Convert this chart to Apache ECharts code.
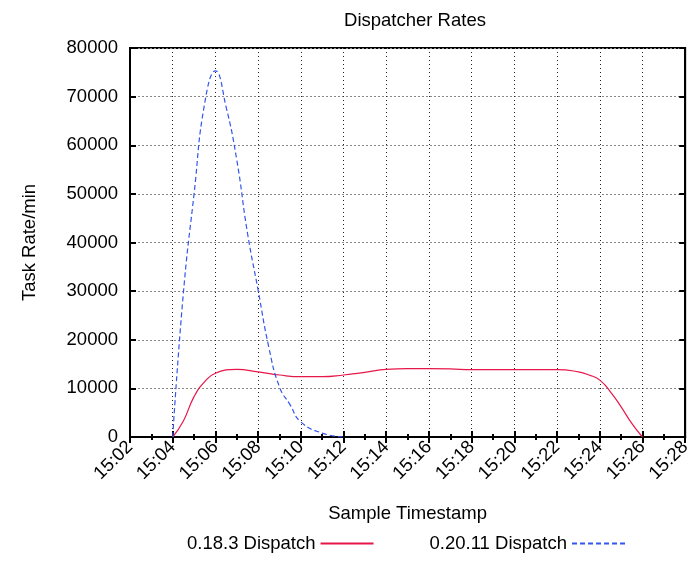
<!DOCTYPE html>
<html>
<head>
<meta charset="utf-8">
<script src="https://cdn.jsdelivr.net/npm/echarts@6/dist/echarts.min.js"></script>
<style>
  html, body { margin: 0; padding: 0; background: #fff; }
  #main { width: 694px; height: 563px; }
</style>
</head>
<body>
<div id="main"></div>
<script>
// minutes after 15:00
var oldMinutes = [4, 4.5, 5, 5.5, 6, 7, 8, 9, 10, 11, 12, 13, 14, 15, 16, 17, 18, 19, 20, 21, 22, 23, 23.5, 24, 24.5, 25, 25.5, 26];
var oldRates = [0, 3300, 8300, 11400, 13100, 13900, 13400, 12750, 12400, 12400, 12750, 13300, 13900, 14050, 14050, 14000, 13850, 13850, 13850, 13850, 13850, 13400, 12750, 11700, 9300, 6200, 2800, 0];

var newMinutes = [4, 4.5, 5, 5.5, 6, 6.5, 7, 7.5, 8, 8.5, 9, 9.5, 10, 11, 12];
var newRates = [0, 29600, 50000, 68700, 75300, 67900, 57000, 42000, 30200, 18500, 10300, 6600, 3100, 800, 0];

var seriesNames = ['0.18.3 Dispatch', '0.20.11 Dispatch'];

function pair(xs, ys) {
  return xs.map(function (x, i) { return [x, ys[i]]; });
}
function fmtTime(v) {
  return '15:' + (v < 10 ? '0' : '') + v;
}

var font = 'Liberation Sans, Arial, sans-serif';
var fs = 18.5;
var myChart = echarts.init(document.getElementById('main'));

var option = {
  animation: false,
  textStyle: { fontFamily: font },
  title: {
    text: 'Dispatcher Rates',
    left: 410,
    top: 6,
    textAlign: 'center',
    textStyle: { fontSize: fs, fontWeight: 'normal', color: '#000', fontFamily: font }
  },
  legend: {
    bottom: 5,
    left: 182,
    align: 'right',
    itemGap: 55,
    itemWidth: 53,
    itemHeight: 14,
    itemStyle: { opacity: 0 },
    textStyle: { fontSize: fs, color: '#000', fontFamily: font },
    data: seriesNames
  },
  grid: { left: 130, right: 2, top: 48, bottom: 126, show: true, borderColor: '#000', borderWidth: 2 },
  xAxis: [
    {
      type: 'value',
      min: 2, max: 28, interval: 2,
      name: 'Sample Timestamp',
      nameLocation: 'middle',
      nameGap: 67,
      nameTextStyle: { fontSize: fs, color: '#000' },
      axisLine: { lineStyle: { color: '#000', width: 2 } },
      axisTick: { inside: true, length: 6, lineStyle: { color: '#000', width: 2 } },
      minorTick: { show: true, splitNumber: 2, length: 3, lineStyle: { color: '#000', width: 2 } },
      axisLabel: { rotate: 45, fontSize: fs, color: '#000', margin: 7, formatter: fmtTime },
      splitLine: { show: true, lineStyle: { color: '#222', width: 1, type: [1, 3] } }
    },
    {
      type: 'value', position: 'top',
      min: 2, max: 28, interval: 2,
      axisLine: { lineStyle: { color: '#000', width: 2 } },
      axisTick: { inside: true, length: 6, lineStyle: { color: '#000', width: 2 } },
      minorTick: { show: true, splitNumber: 2, length: 3, lineStyle: { color: '#000', width: 2 } },
      axisLabel: { show: false },
      splitLine: { show: false }
    }
  ],
  yAxis: [
    {
      type: 'value',
      min: 0, max: 80000, interval: 10000,
      name: 'Task Rate/min',
      nameLocation: 'middle',
      nameGap: 91,
      nameTextStyle: { fontSize: fs, color: '#000' },
      axisLine: { show: true, lineStyle: { color: '#000', width: 2 } },
      axisTick: { show: true, inside: true, length: 6, lineStyle: { color: '#000', width: 2 } },
      axisLabel: { fontSize: fs, color: '#000', margin: 12, formatter: function (v) { return String(v); } },
      splitLine: { show: true, lineStyle: { color: '#888', width: 1, type: [2, 2] } }
    },
    {
      type: 'value', position: 'right',
      min: 0, max: 80000, interval: 10000,
      axisLine: { show: true, lineStyle: { color: '#000', width: 2 } },
      axisTick: { show: true, inside: true, length: 6, lineStyle: { color: '#000', width: 2 } },
      axisLabel: { show: false },
      splitLine: { show: false }
    }
  ],
  series: [
    {
      name: seriesNames[0],
      type: 'line',
      data: pair(oldMinutes, oldRates),
      smooth: 0.5,
      symbol: 'none',
      color: '#e8174a',
      lineStyle: { color: '#e8174a', width: 1.2 },
      z: 3
    },
    {
      name: seriesNames[1],
      type: 'line',
      data: pair(newMinutes, newRates),
      smooth: 0.5,
      symbol: 'none',
      color: '#3355ee',
      lineStyle: { color: '#3355ee', width: 1.2, type: [5, 3] },
      z: 4
    }
  ]
};

myChart.setOption(option);
</script>
</body>
</html>
